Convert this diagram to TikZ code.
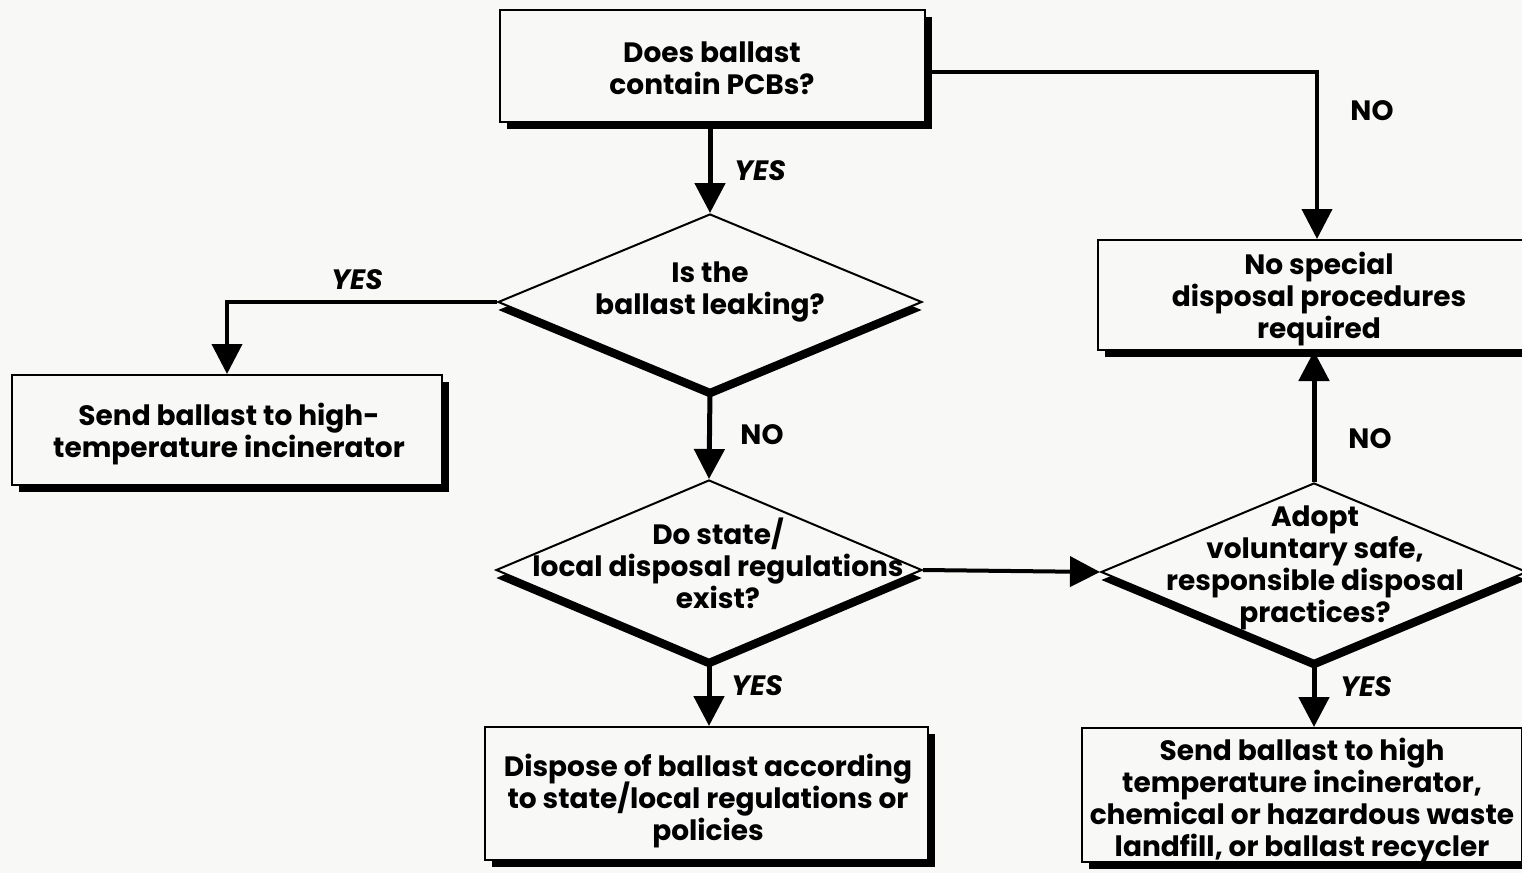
\documentclass[tikz,border=0pt]{standalone}
\usepackage{fontspec}
\setmainfont{Poppins}
\usetikzlibrary{arrows.meta,shapes.geometric,shadows}
\definecolor{bg}{RGB}{248,249,247}
\begin{document}
\lineskiplimit=-100pt\relax
\begin{tikzpicture}[x=0.5pt,y=-0.5pt,
  txt/.style={font=\bfseries\fontsize{14}{16}\selectfont, align=center, inner sep=0pt},
  box/.style={draw, line width=1pt, fill=bg, inner sep=0pt,
    drop shadow={shadow xshift=3.5pt, shadow yshift=-3.5pt, fill=black, opacity=1}},
  dia/.style={shape=diamond, draw, line width=1pt, fill=bg, inner sep=0pt,
    drop shadow={shadow xshift=0pt, shadow yshift=-4pt, fill=black, opacity=1}},
  conn/.style={line width=2.5pt, -{Triangle[width=15pt,length=15pt]}},
  lbl/.style={font=\bfseries\itshape\fontsize{14}{16}\selectfont, inner sep=0pt},
  nolbl/.style={font=\bfseries\fontsize{14}{16}\selectfont, inner sep=0pt}]

\fill[bg] (0,0) rectangle (1522,873);
\useasboundingbox (0,0) rectangle (1522,873);
\clip (0,0) rectangle (1522,873);

% boxes
\node[box, minimum width=212.5pt, minimum height=56pt] (b1) at (712.5,66) {};
\node[txt] (b1t) at (712,68) {Does ballast\\contain PCBs?};
\node[box, minimum width=215pt, minimum height=55pt] (b2) at (227,430) {};
\node[txt] (b2t) at (229,434) {Send ballast to high-\\temperature incinerator};
\node[box, minimum width=221.5pt, minimum height=66.5pt] (b3) at (706.5,793.5) {};
\node[txt] (b3t) at (708,801) {Dispose of ballast according\\to state/local regulations or\\policies};
\node[box, minimum width=219pt, minimum height=55pt] (b4) at (1317,295) {};
\node[txt] (b4t) at (1319,299) {No special\\disposal procedures\\required};
\node[box, minimum width=220pt, minimum height=67pt] (b5) at (1302,795) {};
\node[txt] (b5t) at (1302,801) {Send ballast to high\\temperature incinerator,\\chemical or hazardous waste\\landfill, or ballast recycler};

% diamonds
\node[dia, minimum width=212pt, minimum height=88pt] (d1) at (710,302) {};
\node[txt] (d1t) at (710,292) {Is the\\ballast leaking?};
\node[dia, minimum width=213pt, minimum height=90pt] (d2) at (709,570) {};
\node[txt] (d2t) at (718,563) {Do state/\\local disposal regulations\\exist?};
\node[dia, minimum width=213pt, minimum height=89pt] (d3) at (1314,572) {};
\node[txt] (d3t) at (1315,568) {Adopt\\voluntary safe,\\responsible disposal\\practices?};

% connectors
\draw[conn] (d1.north |- b1.south) -- (d1.north);
\draw[conn, line width=2pt] ([yshift=-3pt]b1.east) -| (b4.north);
\draw[conn, line width=2pt] (d1.west) -| (b2.north);
\draw[conn] (d1.south) -- (d2.north);
\draw[conn] (d2.south) -- (d2.south |- b3.north);
\draw[conn, line width=2pt] (d2.east) -- (d3.west);
\draw[conn] (d3.north) -- (d3.north |- b4.south);
\draw[conn] (d3.south) -- (d3.south |- b5.north);

% labels
\node[lbl] (l1) at (760,171) {YES};
\node[nolbl] (l2) at (1372,111) {NO};
\node[lbl] (l3) at (357,280) {YES};
\node[nolbl] (l4) at (762,435) {NO};
\node[lbl] (l5) at (757,686) {YES};
\node[nolbl] (l6) at (1370,439) {NO};
\node[lbl] (l7) at (1366,687) {YES};
\end{tikzpicture}
\end{document}
